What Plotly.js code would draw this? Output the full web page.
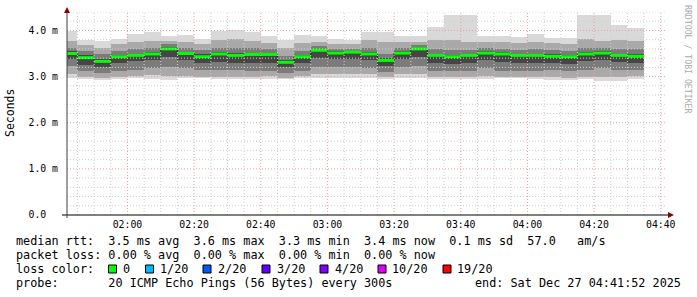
<!DOCTYPE html>
<html><head><meta charset="utf-8">
<script src="https://cdn.plot.ly/plotly-3.0.1.min.js"></script>
<style>html,body{margin:0;padding:0;background:#fff;}#chart{width:697px;height:297px;}</style>
</head><body><div id="chart"></div>
<script>
const day = '2025-12-27';
const slots = ['01:40','01:45','01:50','01:55','02:00','02:05','02:10','02:15','02:20','02:25','02:30','02:35','02:40','02:45','02:50','02:55','03:00','03:05','03:10','03:15','03:20','03:25','03:30','03:35','03:40','03:45','03:50','03:55','04:00','04:05','04:10','04:15','04:20','04:25','04:30'];
// values in milliseconds
const pingMax = [3.99,3.80,3.78,3.82,3.93,3.96,3.88,3.90,3.81,3.98, 4.00,3.97,3.87,3.80,3.90,3.87,3.81,3.80,3.97,3.97, 3.89,3.87,4.08,4.33,4.33,3.87,3.89,3.86,3.93,3.83, 3.83,4.33,4.33,4.12,4.06];
const hi1 = [3.78,3.68,3.62,3.70,3.75,3.78,3.78,3.75,3.70,3.80, 3.82,3.78,3.72,3.62,3.72,3.75,3.70,3.70,3.80,3.75, 3.75,3.76,3.80,3.80,3.76,3.75,3.75,3.72,3.75,3.72, 3.70,3.82,3.78,3.80,3.78];
const hi2 = [3.62,3.55,3.48,3.55,3.60,3.62,3.70,3.62,3.58,3.62, 3.62,3.62,3.60,3.45,3.56,3.66,3.60,3.60,3.62,3.50, 3.62,3.68,3.60,3.58,3.58,3.62,3.60,3.58,3.60,3.58, 3.56,3.62,3.63,3.60,3.60];
const hi3 = [3.55,3.46,3.38,3.47,3.50,3.53,3.64,3.54,3.48,3.53, 3.52,3.52,3.52,3.36,3.47,3.60,3.55,3.56,3.53,3.40, 3.55,3.63,3.50,3.47,3.50,3.55,3.53,3.50,3.50,3.49, 3.47,3.53,3.55,3.50,3.49];
const median = [3.50,3.41,3.33,3.43,3.46,3.49,3.60,3.50,3.43,3.49, 3.46,3.48,3.48,3.31,3.43,3.57,3.51,3.53,3.49,3.35, 3.51,3.60,3.46,3.43,3.46,3.51,3.49,3.46,3.46,3.44, 3.43,3.49,3.51,3.46,3.44];
const lo3 = [3.38,3.25,3.20,3.30,3.33,3.35,3.42,3.35,3.30,3.32, 3.30,3.30,3.30,3.20,3.30,3.40,3.38,3.38,3.35,3.22, 3.38,3.42,3.30,3.28,3.30,3.35,3.32,3.30,3.30,3.30, 3.28,3.33,3.35,3.32,3.30];
const lo2 = [3.22,3.12,3.08,3.12,3.15,3.18,3.20,3.18,3.15,3.15, 3.15,3.12,3.12,3.08,3.12,3.20,3.20,3.20,3.18,3.10, 3.20,3.22,3.12,3.12,3.12,3.18,3.12,3.12,3.12,3.15, 3.12,3.15,3.18,3.15,3.15];
const lo1 = [3.05,3.00,2.98,3.00,3.02,3.04,3.02,3.02,3.00,3.00, 3.00,3.00,3.02,2.98,3.02,3.06,3.05,3.05,3.05,3.00, 3.06,3.06,3.00,3.00,3.00,3.02,3.00,3.00,3.00,3.00, 2.98,3.00,3.00,3.00,3.02];
const pingMin = [2.97,2.94,2.93,2.95,2.96,2.95,2.93,2.97,2.96,2.95, 2.95,2.95,2.95,2.94,2.97,2.96,2.96,2.96,2.97,2.95, 2.98,2.98,2.95,2.94,2.94,2.95,2.96,2.96,2.95,2.93, 2.93,2.95,2.90,2.90,2.94];

const yTickVals = [0,1,2,3,4];
const yTickText = ['0.0\u00a0\u00a0','1.0 m','2.0 m','3.0 m','4.0 m'];
const lossLabels = ['0','1/20','2/20','3/20','4/20','10/20','19/20'];
const lossColors = ['#00ff00','#00b8ff','#0059ff','#5e00ff','#7e00ff','#dd00ff','#ff0000'];
const statsLine = 'median rtt:  3.5 ms avg  3.6 ms max  3.3 ms min  3.4 ms now  0.1 ms sd  57.0   am/s';
const lossLine = 'packet loss: 0.00 % avg  0.00 % max  0.00 % min  0.00 % now';
const probeLine = 'probe:       20 ICMP Echo Pings (56 Bytes) every 300s';
const endLine = 'end: Sat Dec 27 04:41:52 2025';

const nb = s => s.replace(/ /g, '\u00a0');
const ts = hm => day + ' ' + hm + ':00';
function addMin(hm, m){ let [h,mi]=hm.split(':').map(Number); let t=h*60+mi+m; const p=n=>String(n).padStart(2,'0'); return p(Math.floor(t/60))+':'+p(t%60); }

const xs = slots.map(ts);
const layers = [[pingMin,pingMax,'#d9d9d9'],[lo1,hi1,'#a9a9a9'],[lo2,hi2,'#7b7b7b'],[lo3,hi3,'#464646']];
const traces = layers.map(([lo,hi,c]) => ({
  type:'bar', x:xs, base:lo, y:hi.map((v,i)=>v-lo[i]), width:300000, offset:0,
  marker:{color:c, line:{width:0}}, hoverinfo:'skip'
}));
// dark step of the median
traces.push({type:'scatter', mode:'lines', x:xs.concat([ts(addMin(slots[slots.length-1],5))]),
  y:median.concat([median[median.length-1]]), line:{shape:'hv', color:'#202020', width:1}, hoverinfo:'skip'});
// green median segments
const gx=[], gy=[];
slots.forEach((s,i)=>{ gx.push(ts(s), ts(addMin(s,5)), null); gy.push(median[i], median[i], null); });
traces.push({type:'scatter', mode:'lines', x:gx, y:gy, line:{color:lossColors[0], width:3}, hoverinfo:'skip', connectgaps:false});

// pixel helpers (plot area 67..667 x 12..215)
const PX = px => (px-67)/600, PY = py => (215-py)/203;
const shapes = [];
for (let k=1;k<=22;k++){ const v=k*0.2; const major=(k%5===0);
  shapes.push({type:'line', xref:'paper', yref:'y', x0:0, x1:1, y0:v, y1:v, layer:'above',
    line:{color: major?'#e8a0a0':'#cfcfcf', width:1, dash:'1px,2px'}}); }
for (let m=5;m<=180;m+=5){ const t=addMin('01:40',m); const major=(m%20===0);
  shapes.push({type:'line', xref:'x', yref:'paper', x0:ts(t), x1:ts(t), y0:0, y1:1, layer:'above',
    line:{color: major?'#e8a0a0':'#cfcfcf', width:1, dash:'1px,2px'}}); }
shapes.push({type:'line', xref:'paper', yref:'paper', x0:PX(62), x1:PX(670), y0:PY(215), y1:PY(215), layer:'above', line:{color:'#000', width:1}});
shapes.push({type:'line', xref:'paper', yref:'paper', x0:PX(67), x1:PX(67), y0:PY(218), y1:PY(12), layer:'above', line:{color:'#404040', width:1}});
shapes.push({type:'path', xref:'paper', yref:'paper', layer:'above', fillcolor:'#8b0000', line:{width:0},
  path:`M${PX(668)},${PY(212)} L${PX(674)},${PY(215)} L${PX(668)},${PY(218)} Z`});
shapes.push({type:'path', xref:'paper', yref:'paper', layer:'above', fillcolor:'#8b0000', line:{width:0},
  path:`M${PX(64)},${PY(13)} L${PX(67)},${PY(7)} L${PX(70)},${PY(13)} Z`});

const F = {family:'DejaVu Sans Mono', size:11.8, color:'#000'};
const ann = [];
const txt = (px,py,t,extra={}) => ann.push(Object.assign({xref:'paper', yref:'paper', x:PX(px), y:PY(py), text:nb(t), showarrow:false, xanchor:'left', yanchor:'middle', font:F, borderpad:0}, extra));
txt(15,241,statsLine);
txt(15,255,lossLine);
txt(15,269,'loss color:');
txt(15,283,probeLine);
txt(682,283,endLine,{xanchor:'right'});
const sqX = [108.5,145.5,203,262,320,378,443];
const lbX = [123,160,218,277,335,392,457];
lossLabels.forEach((l,i)=>{
  shapes.push({type:'rect', xref:'paper', yref:'paper', x0:PX(sqX[i]), x1:PX(sqX[i]+8), y0:PY(265), y1:PY(273),
    fillcolor:lossColors[i], line:{color:'#000', width:1}});
  txt(lbX[i]-1,269,l);
});
ann.push({xref:'paper', yref:'paper', x:PX(10), y:PY(113), text:'Seconds', textangle:-90, showarrow:false,
  font:{family:'DejaVu Sans Mono', size:11.5, color:'#000'}, xanchor:'center', yanchor:'middle'});
ann.push({xref:'paper', yref:'paper', x:PX(688), y:PY(59), text:'RRDTOOL / TOBI OETIKER', textangle:90, showarrow:false,
  font:{family:'DejaVu Sans Mono', size:8.2, color:'#aaaaaa'}, xanchor:'center', yanchor:'middle'});

const axFont = {family:'DejaVu Sans Mono', size:9.8, color:'#000'};
const layout = {
  width:697, height:297, margin:{l:67, r:30, t:12, b:82, pad:0},
  paper_bgcolor:'#fff', plot_bgcolor:'#fff', showlegend:false, barmode:'overlay', bargap:0,
  xaxis:{type:'date', range:[day+' 01:41:52', day+' 04:41:52'], tickmode:'linear', tick0:day+' 00:00:00', dtick:1200000,
    tickformat:'%H:%M', showgrid:false, zeroline:false, showline:false, ticks:'', tickfont:axFont, ticklabelstandoff:2, fixedrange:true},
  yaxis:{range:[0,4.4], tickmode:'array', tickvals:yTickVals, ticktext:yTickText, showgrid:false, zeroline:false, showline:false,
    ticks:'', tickfont:axFont, ticklabelstandoff:8, fixedrange:true},
  shapes:shapes, annotations:ann
};
Plotly.newPlot('chart', traces, layout, {staticPlot:true, displayModeBar:false});
</script></body></html>
